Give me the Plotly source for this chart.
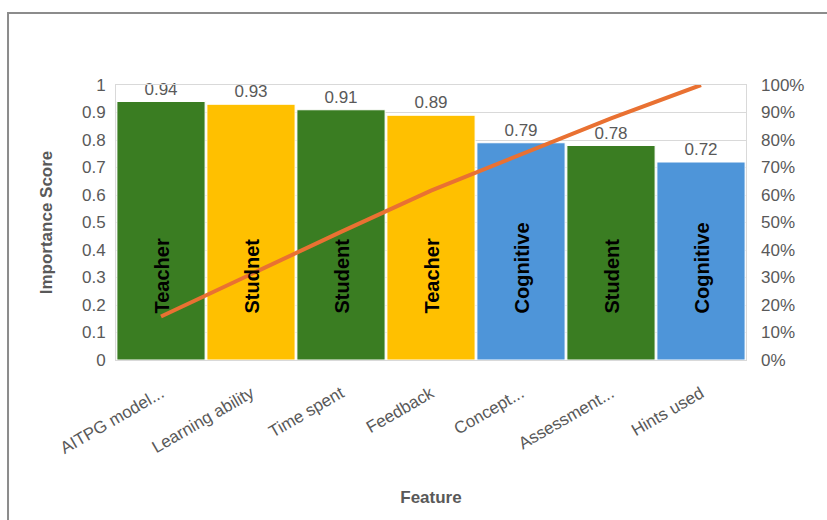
import plotly.graph_objects as go

features = ["AITPG model...", "Learning ability", "Time spent", "Feedback",
            "Concept...", "Assessment...", "Hints used"]
importance = [0.94, 0.93, 0.91, 0.89, 0.79, 0.78, 0.72]
groups = ["Teacher", "Studnet", "Student", "Teacher", "Cognitive", "Student", "Cognitive"]
bar_colors = ["#3a7d22", "#ffc000", "#3a7d22", "#ffc000", "#4e95d9", "#3a7d22", "#4e95d9"]
cumulative = [0.158, 0.314, 0.466, 0.616, 0.748, 0.879, 1.0]

GRAY = "#595959"
FONT = "Liberation Sans, Arial, sans-serif"

fig = go.Figure()
fig.add_trace(go.Bar(
    x=features, y=importance,
    marker=dict(color=bar_colors, line=dict(color="white", width=1)),
    text=[f"{v:.2f}" for v in importance], textposition="outside",
    textfont=dict(color=GRAY, size=17, family=FONT),
    cliponaxis=False, showlegend=False,
))
fig.add_trace(go.Scatter(
    x=features, y=cumulative, yaxis="y2", mode="lines",
    line=dict(color="#e97132", width=4), showlegend=False,
))

for f, g in zip(features, groups):
    fig.add_annotation(x=f, y=0.16, xref="x", yref="y", text=g, textangle=-90,
                       yanchor="bottom", xanchor="center", showarrow=False,
                       font=dict(color="black", size=20, family=FONT, weight="bold"))

# outer chart frame
fig.add_shape(type="rect", xref="paper", yref="paper",
              x0=-0.1714, x1=1.3, y0=-0.7, y1=1.2618,
              line=dict(color="#8c8c8c", width=2), layer="below")

fig.update_layout(
    width=827, height=520,
    margin=dict(l=116, r=81, t=85, b=160),
    plot_bgcolor="white", paper_bgcolor="white",
    bargap=0.02,
    font=dict(family=FONT, color=GRAY, size=16),
    xaxis=dict(
        title=dict(text="<b>Feature</b>", font=dict(size=17, color=GRAY), standoff=34),
        tickangle=-30, tickfont=dict(size=17, color=GRAY), ticklabelstandoff=16,
        showline=True, linecolor="#d9d9d9", mirror=True, ticks="",
    ),
    yaxis=dict(
        title=dict(text="<b>Importance Score</b>", font=dict(size=17, color=GRAY), standoff=25),
        range=[0, 1], dtick=0.1, tickfont=dict(size=17, color=GRAY), ticklabelstandoff=6,
        showgrid=True, gridcolor="#d9d9d9", zeroline=False,
        showline=True, linecolor="#d9d9d9", mirror=True, ticks="",
    ),
    yaxis2=dict(
        overlaying="y", side="right", range=[0, 1], dtick=0.1, tickformat=".0%",
        tickfont=dict(size=17, color=GRAY), ticklabelstandoff=14,
        showgrid=False, zeroline=False, ticks="",
    ),
)

fig.write_html("out.html")
